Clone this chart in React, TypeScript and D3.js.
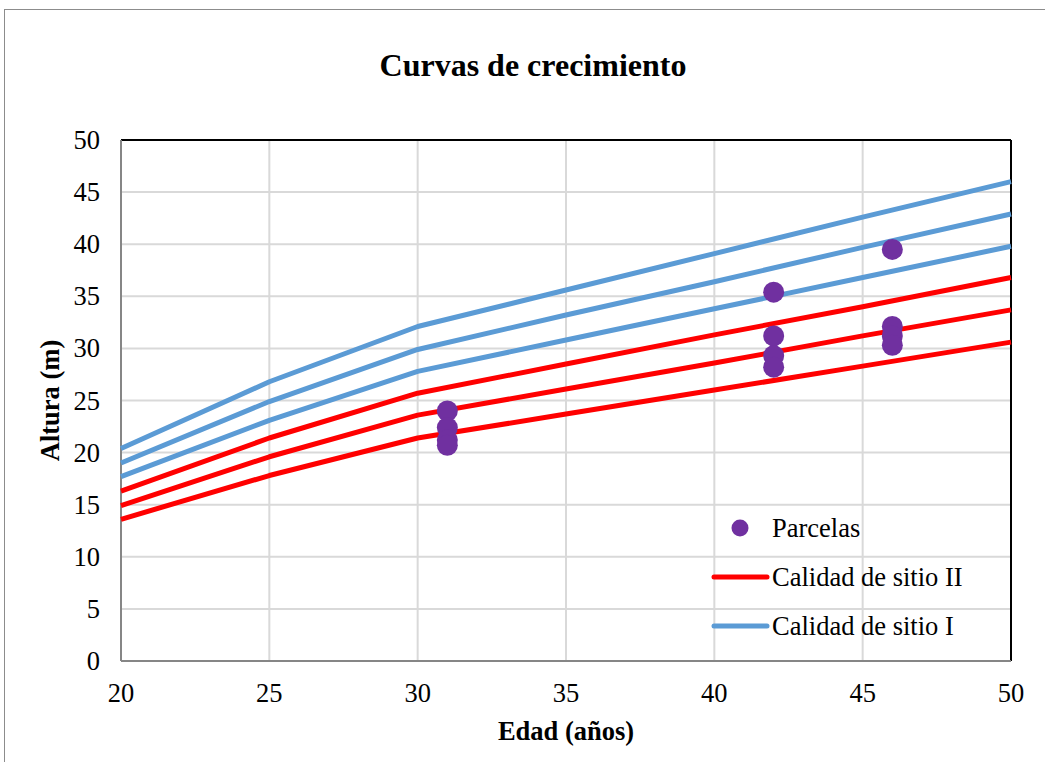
import React from "react";
import * as d3 from "d3";

const ages = [20, 25, 30, 35, 40, 45, 50];
const siteI_high = [20.4, 26.8, 32.1, 35.6, 39.1, 42.6, 46.0];
const siteI_mid = [19.0, 24.9, 29.9, 33.2, 36.4, 39.7, 42.9];
const siteI_low = [17.7, 23.1, 27.8, 30.8, 33.8, 36.8, 39.8];
const siteII_high = [16.3, 21.4, 25.7, 28.5, 31.3, 34.0, 36.8];
const siteII_mid = [14.9, 19.6, 23.6, 26.1, 28.6, 31.2, 33.7];
const siteII_low = [13.6, 17.8, 21.4, 23.7, 26.0, 28.3, 30.6];

const plotAge = [31, 31, 31, 31, 42, 42, 42, 42, 46, 46, 46, 46];
const plotHeight = [24.0, 22.4, 21.2, 20.7, 35.4, 31.2, 29.3, 28.2, 39.5, 32.1, 31.2, 30.3];

const xTicks = [20, 25, 30, 35, 40, 45, 50];
const yTicks = [0, 5, 10, 15, 20, 25, 30, 35, 40, 45, 50];

const W = 1045;
const H = 762;
const left = 121;
const right = 1011;
const top = 140;
const bottom = 661;

const BLUE = "#5B9BD5";
const RED = "#FF0000";
const PURPLE = "#7030A0";
const FONT = "'Liberation Serif', 'Times New Roman', serif";

export default function App() {
  const x = d3.scaleLinear().domain([20, 50]).range([left, right]);
  const y = d3.scaleLinear().domain([0, 50]).range([bottom, top]);
  const line = d3
    .line<number>()
    .x((_, i) => x(ages[i]))
    .y((d) => y(d));

  const blues = [siteI_high, siteI_mid, siteI_low];
  const reds = [siteII_high, siteII_mid, siteII_low];

  return (
    <svg
      width={W}
      height={H}
      style={{ position: "absolute", left: 0, top: 0, background: "#fff" }}
      fontFamily={FONT}
    >
      <rect x={0} y={0} width={W} height={H} fill="#fff" />
      <rect x={4.5} y={9.5} width={W + 10} height={H + 10} fill="none" stroke="#8c8c8c" strokeWidth={1} />

      {/* gridlines */}
      {yTicks.map((t) => (
        <line key={"gy" + t} x1={left} x2={right} y1={y(t)} y2={y(t)} stroke="#d9d9d9" strokeWidth={2} />
      ))}
      {xTicks.map((t) => (
        <line key={"gx" + t} x1={x(t)} x2={x(t)} y1={top} y2={bottom} stroke="#d9d9d9" strokeWidth={2} />
      ))}

      {/* plot border */}
      <line x1={left} x2={right} y1={top} y2={top} stroke="#000" strokeWidth={2} />
      <line x1={right} x2={right} y1={top} y2={bottom} stroke="#000" strokeWidth={2} />
      <line x1={left} x2={left} y1={top} y2={bottom} stroke="#868686" strokeWidth={2} />
      <line x1={left} x2={right} y1={bottom} y2={bottom} stroke="#868686" strokeWidth={2} />

      {/* curves */}
      {blues.map((s, i) => (
        <path key={"b" + i} d={line(s) || ""} fill="none" stroke={BLUE} strokeWidth={5} strokeLinejoin="round" />
      ))}
      {reds.map((s, i) => (
        <path key={"r" + i} d={line(s) || ""} fill="none" stroke={RED} strokeWidth={5} strokeLinejoin="round" />
      ))}

      {/* points */}
      {plotAge.map((a, i) => (
        <circle key={"p" + i} cx={x(a)} cy={y(plotHeight[i])} r={10.5} fill={PURPLE} />
      ))}

      {/* y tick labels */}
      {yTicks.map((t) => (
        <text key={"yl" + t} x={100} y={y(t) + 9} textAnchor="end" fontSize={26.5} fill="#000">
          {t}
        </text>
      ))}
      {/* x tick labels */}
      {xTicks.map((t) => (
        <text key={"xl" + t} x={x(t)} y={702} textAnchor="middle" fontSize={26.5} fill="#000">
          {t}
        </text>
      ))}

      {/* titles */}
      <text x={533} y={76} textAnchor="middle" fontSize={32} fontWeight="bold" fill="#000">
        Curvas de crecimiento
      </text>
      <text x={566} y={740} textAnchor="middle" fontSize={26.5} fontWeight="bold" fill="#000">
        Edad (años)
      </text>
      <text
        transform={`translate(59, ${(top + bottom) / 2}) rotate(-90)`}
        textAnchor="middle"
        fontSize={26.5}
        fontWeight="bold"
        fill="#000"
      >
        Altura (m)
      </text>

      {/* legend */}
      <circle cx={740} cy={528} r={8.5} fill={PURPLE} />
      <text x={772} y={537} fontSize={26.5} fill="#000">Parcelas</text>
      <line x1={714} x2={767} y1={577} y2={577} stroke={RED} strokeWidth={5} strokeLinecap="round" />
      <text x={772} y={586} fontSize={26.5} fill="#000">Calidad de sitio II</text>
      <line x1={714} x2={767} y1={626} y2={626} stroke={BLUE} strokeWidth={5} strokeLinecap="round" />
      <text x={772} y={635} fontSize={26.5} fill="#000">Calidad de sitio I</text>
    </svg>
  );
}
